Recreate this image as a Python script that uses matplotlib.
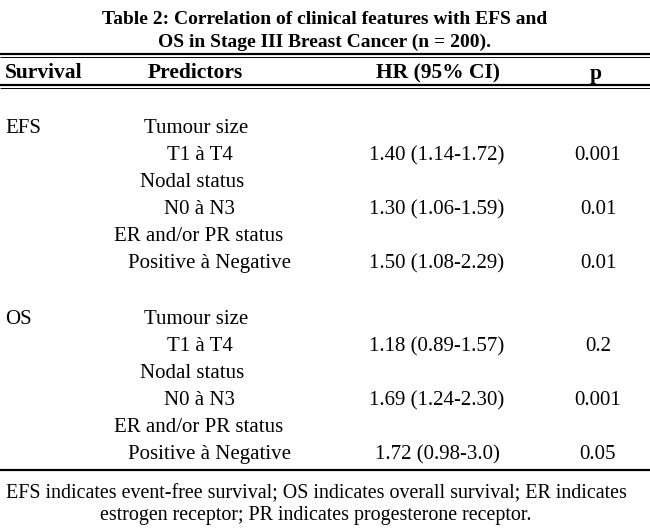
import matplotlib
matplotlib.use("Agg")
import matplotlib.pyplot as plt

# table content
title_lines = [
    "Table 2: Correlation of clinical features with EFS and",
    "OS in Stage III Breast Cancer (n = 200).",
]
headers = ["Survival", "Predictors", "HR (95% CI)", "p"]
groups = ["EFS", "OS"]
predictors = [
    "Tumour size", "T1 à T4",
    "Nodal status", "N0 à N3",
    "ER and/or PR status", "Positive à Negative",
]
hr_efs = ["1.40 (1.14-1.72)", "1.30 (1.06-1.59)", "1.50 (1.08-2.29)"]
p_efs = ["0.001", "0.01", "0.01"]
hr_os = ["1.18 (0.89-1.57)", "1.69 (1.24-2.30)", "1.72 (0.98-3.0)"]
p_os = ["0.2", "0.001", "0.05"]
footnote = [
    "EFS indicates event-free survival; OS indicates overall survival; ER indicates",
    "estrogen receptor; PR indicates progesterone receptor.",
]

W, H = 650, 528
fig = plt.figure(figsize=(W / 100, H / 100), dpi=100)
ax = fig.add_axes([0, 0, 1, 1])
ax.set_xlim(0, W)
ax.set_ylim(H, 0)
ax.axis("off")

font = "Liberation Serif"
fs_title = 14
fs_head = 15.5
fs = 15
fs_note = 14.4
va = "center_baseline"

# title
ax.text(325, 18, title_lines[0], ha="center", va=va, fontsize=fs_title,
        fontweight="bold", family=font)
ax.text(325, 40, title_lines[1], ha="center", va=va, fontsize=fs_title,
        fontweight="bold", family=font)


def double_rule(y):
    ax.plot([0, W], [y, y], color="black", lw=1.6, solid_capstyle="butt")
    ax.plot([0, W], [y + 3, y + 3], color="black", lw=0.7, solid_capstyle="butt")


double_rule(54)
double_rule(85)
ax.plot([0, W], [470, 470], color="black", lw=1.6, solid_capstyle="butt")

# header
ax.text(5, 71, headers[0], ha="left", va=va, fontsize=fs_head,
        fontweight="bold", family=font)
ax.text(148, 71, headers[1], ha="left", va=va, fontsize=fs_head,
        fontweight="bold", family=font)
ax.text(438, 71, headers[2], ha="center", va=va, fontsize=fs_head,
        fontweight="bold", family=font)
ax.text(596, 71, headers[3], ha="center", va=va, fontsize=fs_head,
        fontweight="bold", family=font)

# body
pred_x = [196, 200, 192, 200, 199, 209]
row_h = 27
for g, (name, hrs, ps) in enumerate(zip(groups, [hr_efs, hr_os], [p_efs, p_os])):
    y0 = 126 + g * 191
    ax.text(5, y0, name, ha="left", va=va, fontsize=fs, family=font)
    for i, pred in enumerate(predictors):
        ax.text(pred_x[i], y0 + i * row_h, pred, ha="center", va=va,
                fontsize=fs, family=font)
    for k in range(3):
        y = y0 + (2 * k + 1) * row_h
        ax.text(437, y, hrs[k], ha="center", va=va, fontsize=fs, family=font)
        ax.text(598, y, ps[k], ha="center", va=va, fontsize=fs, family=font)

# footnote
ax.text(316, 491, footnote[0], ha="center", va=va, fontsize=fs_note, family=font)
ax.text(316, 513, footnote[1], ha="center", va=va, fontsize=fs_note, family=font)

fig.savefig("out.png", dpi=100)
